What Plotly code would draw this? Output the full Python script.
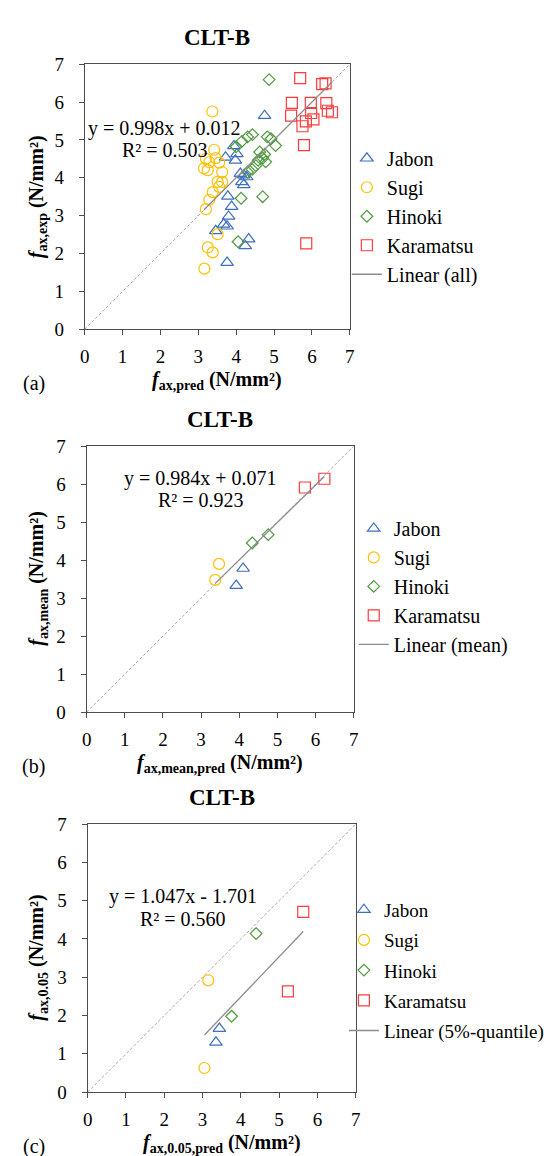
import plotly.graph_objects as go

# ---------------- data ----------------
species = ["Jabon", "Sugi", "Hinoki", "Karamatsu"]

# panel (a): all specimens
jabon_a_x = [4.75, 3.94, 4.02, 3.72, 3.98, 4.11, 4.20, 4.28, 4.15, 4.20, 3.78, 3.88, 3.80, 3.76, 3.67, 3.46, 4.33, 4.24, 3.76]
jabon_a_y = [5.64, 4.84, 4.63, 4.54, 4.46, 4.11, 4.07, 4.02, 3.89, 3.81, 3.51, 3.24, 2.98, 2.72, 2.77, 2.60, 2.38, 2.20, 1.76]
sugi_a_x = [3.37, 3.42, 3.20, 3.46, 3.29, 3.55, 3.15, 3.25, 3.63, 3.51, 3.63, 3.55, 3.38, 3.29, 3.20, 3.51, 3.25, 3.38, 3.16]
sugi_a_y = [5.75, 4.74, 4.50, 4.52, 4.41, 4.40, 4.25, 4.20, 4.15, 3.89, 3.89, 3.76, 3.62, 3.42, 3.17, 2.51, 2.16, 2.03, 1.60]
hinoki_a_x = [4.87, 4.15, 4.00, 4.30, 4.43, 4.82, 4.92, 5.04, 4.62, 4.75, 4.58, 4.70, 4.78, 4.52, 4.42, 4.30, 4.13, 4.70, 4.05]
hinoki_a_y = [6.59, 4.96, 4.82, 5.08, 5.14, 5.08, 5.03, 4.85, 4.68, 4.62, 4.46, 4.52, 4.42, 4.32, 4.22, 4.15, 3.46, 3.50, 2.31]
kara_a_x = [5.69, 6.27, 6.36, 5.47, 5.97, 6.38, 5.45, 5.98, 6.42, 6.53, 6.04, 5.84, 5.75, 5.79, 5.85]
kara_a_y = [6.63, 6.47, 6.49, 5.98, 5.98, 5.97, 5.64, 5.71, 5.77, 5.73, 5.54, 5.49, 5.36, 4.86, 2.27]

# panel (b): means
jabon_b_x = [3.92, 4.10]
jabon_b_y = [3.33, 3.78]
sugi_b_x = [3.37, 3.47]
sugi_b_y = [3.48, 3.90]
hinoki_b_x = [4.34, 4.76]
hinoki_b_y = [4.45, 4.67]
kara_b_x = [5.72, 6.23]
kara_b_y = [5.91, 6.14]

# panel (c): 5%-quantiles
jabon_c_x = [3.35, 3.44]
jabon_c_y = [1.30, 1.66]
sugi_c_x = [3.05, 3.15]
sugi_c_y = [0.63, 2.92]
hinoki_c_x = [3.76, 4.40]
hinoki_c_y = [1.98, 4.14]
kara_c_x = [5.23, 5.63]
kara_c_y = [2.63, 4.71]

# regression results (slope, intercept, R2, x-range)
fit_slope = [0.998, 0.984, 1.047]
fit_icpt = [0.012, 0.071, -1.701]
fit_r2 = ["0.503", "0.923", "0.560"]
fit_xrange = [[3.15, 6.53], [3.37, 6.23], [3.05, 5.63]]
fit_names = ["Linear (all)", "Linear (mean)", "Linear (5%-quantile)"]
eq_texts = ["y = 0.998x + 0.012", "y = 0.984x + 0.071", "y = 1.047x - 1.701"]

ticks = [0, 1, 2, 3, 4, 5, 6, 7]
x_titles = ["ax,pred", "ax,mean,pred", "ax,0.05,pred"]
y_titles = ["ax,exp", "ax,mean", "ax,0.05"]
panel_labels = ["(a)", "(b)", "(c)"]

# ---------------- styling ----------------
FONT = "Liberation Serif"
W, H = 554, 1156
colors = {"Jabon": "#3F6FBF", "Sugi": "#FFC000", "Hinoki": "#4E9A3C", "Karamatsu": "#FF3B3B"}
symbols = {"Jabon": "triangle-up-open", "Sugi": "circle-open", "Hinoki": "diamond-open", "Karamatsu": "square-open"}
sizes = {"Jabon": 11, "Sugi": 11, "Hinoki": 9, "Karamatsu": 11}

# plot boxes in pixels: (left, right, top, bottom)
boxes = [(73, 343, 47, 317), (75, 347, 436, 707), (76, 349, 821, 1094)]
legend_top = [123, 500, 889]
legend_x = [340, 347, 337]
legend_gap = [0, 0, 2.5]
legend_size = [20, 20, 19]

panels = [
    {"Jabon": (jabon_a_x, jabon_a_y), "Sugi": (sugi_a_x, sugi_a_y),
     "Hinoki": (hinoki_a_x, hinoki_a_y), "Karamatsu": (kara_a_x, kara_a_y)},
    {"Jabon": (jabon_b_x, jabon_b_y), "Sugi": (sugi_b_x, sugi_b_y),
     "Hinoki": (hinoki_b_x, hinoki_b_y), "Karamatsu": (kara_b_x, kara_b_y)},
    {"Jabon": (jabon_c_x, jabon_c_y), "Sugi": (sugi_c_x, sugi_c_y),
     "Hinoki": (hinoki_c_x, hinoki_c_y), "Karamatsu": (kara_c_x, kara_c_y)},
]
eq_pos = [(2.12, 5.30, 4.72), (2.99, 6.16, 5.59), (2.49, 5.10, 4.52)]

fig = go.Figure()
layout = dict(width=W, height=H, margin=dict(l=0, r=0, t=0, b=0),
              paper_bgcolor="white", plot_bgcolor="white",
              font=dict(family=FONT, color="black", size=18))
annotations = []

for i in range(3):
    sfx = "" if i == 0 else str(i + 1)
    xa, ya = "x" + sfx, "y" + sfx
    leg = "legend" if i == 0 else "legend" + str(i + 1)
    l, r, t, b = boxes[i]

    # 1:1 reference line
    fig.add_trace(go.Scatter(x=[0, 7], y=[0, 7], mode="lines", xaxis=xa, yaxis=ya,
                             line=dict(color="#A8A8A8", width=1, dash="3px,2px"),
                             showlegend=False, hoverinfo="skip"))
    for sp in species:
        xs, ys = panels[i][sp]
        fig.add_trace(go.Scatter(x=xs, y=ys, mode="markers", name=sp, xaxis=xa, yaxis=ya,
                                 legend=leg, legendgroup=sp + str(i),
                                 marker=dict(symbol=symbols[sp], size=sizes[sp],
                                             color=colors[sp], line=dict(width=1.2, color=colors[sp]))))
    x0, x1 = fit_xrange[i]
    fig.add_trace(go.Scatter(x=[x0, x1],
                             y=[fit_slope[i] * x0 + fit_icpt[i], fit_slope[i] * x1 + fit_icpt[i]],
                             mode="lines", name=fit_names[i], xaxis=xa, yaxis=ya, legend=leg,
                             legendgroup="fit" + str(i),
                             line=dict(color="#8C8C8C", width=1.3)))

    axis_common = dict(range=[0, 7], tickvals=ticks, showgrid=False, zeroline=False,
                       showline=True, linecolor="#4D4D4D", linewidth=1, mirror=True,
                       ticks="outside", ticklen=5, tickcolor="#4D4D4D", tickwidth=1,
                       tickfont=dict(family=FONT, size=19, color="black"), fixedrange=True)
    layout["xaxis" + sfx] = dict(axis_common, domain=[l / W, r / W], anchor=ya,
                                 ticklabelstandoff=5)
    layout["yaxis" + sfx] = dict(axis_common, domain=[1 - b / H, 1 - t / H], anchor=xa,
                                 ticklabelstandoff=11)
    layout[leg] = dict(x=legend_x[i] / W, y=1 - legend_top[i] / H, xanchor="left", yanchor="top",
                       font=dict(family=FONT, size=legend_size[i], color="black"), bgcolor="rgba(0,0,0,0)",
                       itemwidth=30, tracegroupgap=legend_gap[i])

    cx = (l + r) / 2
    # title
    annotations.append(dict(text="<b>CLT-B</b>", x=cx / W, y=1 - (t - 27) / H, xref="paper", yref="paper",
                            showarrow=False, font=dict(family=FONT, size=23, color="black"),
                            xanchor="center", yanchor="middle"))
    # x-axis title
    annotations.append(dict(text="<b><i>f</i><sub>" + x_titles[i] + "</sub> (N/mm²)</b>",
                            x=cx / W, y=1 - (b + 52) / H, xref="paper", yref="paper",
                            showarrow=False, font=dict(family=FONT, size=20, color="black"),
                            xanchor="center", yanchor="middle"))
    # y-axis title
    annotations.append(dict(text="<b><i>f</i><sub>" + y_titles[i] + "</sub> (N/mm²)</b>",
                            x=25 / W, y=1 - ((t + b) / 2) / H, xref="paper", yref="paper",
                            textangle=-90, showarrow=False, font=dict(family=FONT, size=20, color="black"),
                            xanchor="center", yanchor="middle"))
    # panel label
    annotations.append(dict(text=panel_labels[i], x=21 / W, y=1 - (b + 55) / H, xref="paper", yref="paper",
                            showarrow=False, font=dict(family=FONT, size=20, color="black"),
                            xanchor="center", yanchor="middle"))
    # equation text
    ex, ey1, ey2 = eq_pos[i]
    annotations.append(dict(text=eq_texts[i], x=ex, y=ey1, xref=xa, yref=ya, showarrow=False,
                            font=dict(family=FONT, size=20, color="black"), xanchor="center", yanchor="middle"))
    annotations.append(dict(text="R² = " + fit_r2[i], x=ex, y=ey2, xref=xa, yref=ya, showarrow=False,
                            font=dict(family=FONT, size=20, color="black"), xanchor="center", yanchor="middle"))

layout["annotations"] = annotations
fig.update_layout(**layout)
fig.write_html("out.html")
